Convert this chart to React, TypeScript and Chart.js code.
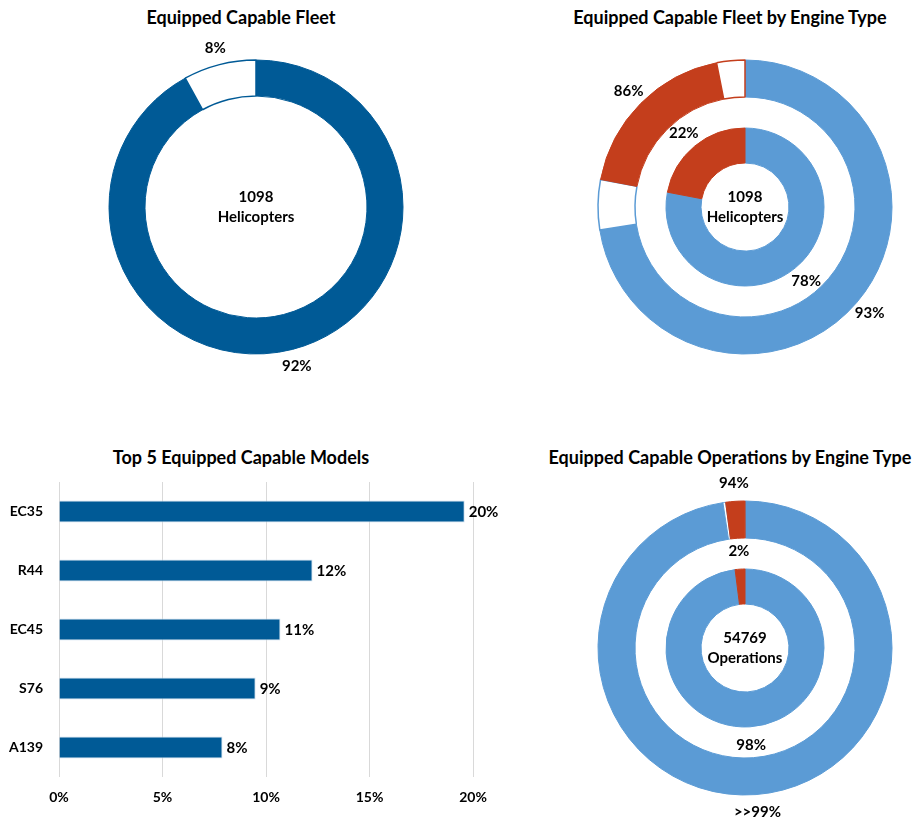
import React, { useEffect, useRef } from "react";
import { Chart, registerables } from "chart.js";

Chart.register(...registerables);

// ---------- colours ----------
const DARK_BLUE = "#005A96";
const LIGHT_BLUE = "#5B9BD5";
const RED = "#C43E1C";
const WHITE = "#FFFFFF";
const TEXT = "#000000";
const FONT = "Lato, 'Open Sans', sans-serif";

// ---------- Panel 1: Equipped Capable Fleet ----------
const fleetTitle = "Equipped Capable Fleet";
const fleetCategories = ["Equipped capable", "Not equipped capable"];
const fleetValues = [92, 8];
const fleetLabels = ["92%", "8%"];
const fleetCenter = ["1098", "Helicopters"];

// ---------- Panel 2: Equipped Capable Fleet by Engine Type ----------
const engineTitle = "Equipped Capable Fleet by Engine Type";
const engineTypes = ["Turbine", "Piston"];
const engineShare = [78, 22];
const engineShareLabels = ["78%", "22%"];
const engineSplitCategories = ["Turbine equipped", "Turbine not equipped", "Piston equipped", "Piston not equipped"];
const engineSplitValues = [72.5, 5.5, 18.9, 3.1];
const engineSplitLabels = ["93%", "", "86%", ""];
const engineCenter = ["1098", "Helicopters"];

// ---------- Panel 3: Top 5 Equipped Capable Models ----------
const modelsTitle = "Top 5 Equipped Capable Models";
const models = ["EC35", "R44", "EC45", "S76", "A139"];
const modelShares = [19.6, 12.25, 10.7, 9.5, 7.9];
const modelLabels = ["20%", "12%", "11%", "9%", "8%"];
const modelAxisMax = 20;
const modelAxisStep = 5;

// ---------- Panel 4: Equipped Capable Operations by Engine Type ----------
const opsTitle = "Equipped Capable Operations by Engine Type";
const opsShare = [98, 2];
const opsShareLabels = ["98%", "2%"];
const opsSplitCategories = ["Turbine equipped", "Turbine not equipped", "Piston equipped", "Piston not equipped"];
const opsSplitValues = [97.6, 0.3, 2.05, 0.05];
const opsSplitLabels = [">>99%", "", "94%", ""];
const opsCenter = ["54769", "Operations"];

const LABEL_FONT = `bold 15px ${FONT}`;

// ---------- plugins ----------
function makeRingLabels(sets: string[][], offset: number) {
  return {
    id: "ringLabels",
    afterDatasetsDraw(chart: any) {
      const ctx = chart.ctx;
      ctx.save();
      ctx.font = LABEL_FONT;
      ctx.fillStyle = TEXT;
      ctx.textAlign = "center";
      ctx.textBaseline = "middle";
      sets.forEach((labels, di) => {
        if (!labels) return;
        const meta = chart.getDatasetMeta(di);
        meta.data.forEach((arc: any, i: number) => {
          const text = labels[i];
          if (!text) return;
          const p = arc.getProps(["x", "y", "startAngle", "endAngle", "outerRadius"], true);
          const a = (p.startAngle + p.endAngle) / 2;
          const r = p.outerRadius + offset;
          ctx.fillText(text, p.x + Math.cos(a) * r, p.y + Math.sin(a) * r);
        });
      });
      ctx.restore();
    },
  };
}

function makeCenterText(lines: string[]) {
  return {
    id: "centerText",
    afterDatasetsDraw(chart: any) {
      const { ctx, chartArea } = chart;
      const cx = (chartArea.left + chartArea.right) / 2;
      const cy = (chartArea.top + chartArea.bottom) / 2;
      ctx.save();
      ctx.font = LABEL_FONT;
      ctx.fillStyle = TEXT;
      ctx.textAlign = "center";
      ctx.textBaseline = "middle";
      const lh = 20;
      lines.forEach((t, i) => {
        ctx.fillText(t, cx, cy - ((lines.length - 1) * lh) / 2 + i * lh);
      });
      ctx.restore();
    },
  };
}

function makeBarLabels(labels: string[]) {
  return {
    id: "barLabels",
    afterDatasetsDraw(chart: any) {
      const ctx = chart.ctx;
      const meta = chart.getDatasetMeta(0);
      ctx.save();
      ctx.font = LABEL_FONT;
      ctx.fillStyle = TEXT;
      ctx.textAlign = "left";
      ctx.textBaseline = "middle";
      meta.data.forEach((bar: any, i: number) => {
        const p = bar.getProps(["x", "y"], true);
        ctx.fillText(labels[i], p.x + 4, p.y + 1);
      });
      ctx.restore();
    },
  };
}

const pct = (v: number) => `${v * 100}%`;

const baseDonutOptions = (cutoutPx: number, radius: number, padTop = 0) => ({
  animation: false as const,
  responsive: false,
  events: [] as any[],
  radius,
  cutout: pct(cutoutPx / radius),
  layout: { padding: { top: padTop, left: 0, right: 0, bottom: 0 } },
  plugins: { legend: { display: false }, tooltip: { enabled: false }, title: { display: false } },
});

// ---------- canvas component ----------
function ChartBox(props: { make: () => any; left: number; top: number; width: number; height: number }) {
  const ref = useRef<HTMLCanvasElement | null>(null);
  useEffect(() => {
    if (!ref.current) return;
    const chart = new Chart(ref.current, props.make());
    return () => chart.destroy();
  }, []);
  return (
    <canvas
      ref={ref}
      width={props.width}
      height={props.height}
      style={{ position: "absolute", left: props.left, top: props.top, width: props.width, height: props.height }}
    />
  );
}

function Title(props: { text: string; cx: number; top: number }) {
  return (
    <div
      style={{
        position: "absolute",
        left: props.cx - 250,
        width: 500,
        top: props.top,
        height: 20,
        lineHeight: "20px",
        textAlign: "center",
        font: `bold 18px ${FONT}`,
        color: TEXT,
        whiteSpace: "nowrap",
      }}
    >
      {props.text}
    </div>
  );
}

// ---------- chart configs ----------
const makeFleet = () => ({
  type: "doughnut",
  data: {
    labels: fleetCategories,
    datasets: [
      {
        label: fleetTitle,
        data: fleetValues,
        backgroundColor: [DARK_BLUE, WHITE],
        borderColor: [DARK_BLUE, DARK_BLUE],
        borderWidth: [1, 1.5],
      },
    ],
  },
  options: baseDonutOptions(111, 147),
  plugins: [makeRingLabels([fleetLabels], 17), makeCenterText(fleetCenter)],
});

const makeEngine = () => ({
  type: "doughnut",
  data: {
    labels: engineSplitCategories,
    datasets: [
      {
        label: "Equipped capable share within engine type",
        data: engineSplitValues,
        backgroundColor: [LIGHT_BLUE, WHITE, RED, WHITE],
        borderColor: [LIGHT_BLUE, LIGHT_BLUE, RED, RED],
        borderWidth: [1, 1.5, 1, 1.5],
        weight: 37,
      },
      {
        label: "gap",
        data: [100],
        backgroundColor: "rgba(0,0,0,0)",
        borderWidth: 0,
        weight: 31,
      },
      {
        label: engineTypes.join(" / "),
        data: engineShare,
        backgroundColor: [LIGHT_BLUE, RED],
        borderColor: [LIGHT_BLUE, RED],
        borderWidth: 1,
        weight: 35,
      },
    ],
  },
  options: baseDonutOptions(44, 147),
  plugins: [makeRingLabels([engineSplitLabels, [], engineShareLabels], 17), makeCenterText(engineCenter)],
});

const makeOps = () => ({
  type: "doughnut",
  data: {
    labels: opsSplitCategories,
    datasets: [
      {
        label: "Equipped capable operations within engine type",
        data: opsSplitValues,
        backgroundColor: [LIGHT_BLUE, WHITE, RED, WHITE],
        borderColor: [LIGHT_BLUE, LIGHT_BLUE, RED, RED],
        borderWidth: [1, 1, 1, 1],
        weight: 37,
      },
      {
        label: "gap",
        data: [100],
        backgroundColor: "rgba(0,0,0,0)",
        borderWidth: 0,
        weight: 31,
      },
      {
        label: engineTypes.join(" / "),
        data: opsShare,
        backgroundColor: [LIGHT_BLUE, RED],
        borderColor: [LIGHT_BLUE, RED],
        borderWidth: 1,
        weight: 35,
      },
    ],
  },
  options: baseDonutOptions(44, 147, 16),
  plugins: [makeRingLabels([opsSplitLabels, [], opsShareLabels], 18), makeCenterText(opsCenter)],
});

const tickFont = { family: FONT, size: 14, weight: "bold" as const };

const makeModels = () => ({
  type: "bar",
  data: {
    labels: models,
    datasets: [
      {
        label: modelsTitle,
        data: modelShares,
        backgroundColor: DARK_BLUE,
        borderColor: "#cfe0ef",
        borderWidth: 1,
        barPercentage: 0.75,
        categoryPercentage: 0.5,
      },
    ],
  },
  options: {
    indexAxis: "y",
    animation: false,
    responsive: false,
    events: [],
    layout: { padding: { top: 12, right: 27, bottom: 0, left: 0 } },
    scales: {
      x: {
        min: 0,
        max: modelAxisMax,
        ticks: {
          stepSize: modelAxisStep,
          callback: (v: any) => `${v}%`,
          font: tickFont,
          color: TEXT,
          padding: 12,
        },
        grid: { color: "#d9d9d9", drawTicks: false, lineWidth: 1 },
        border: { display: false },
        afterFit: (s: any) => {
          s.height = 40;
          s.paddingLeft = 0;
          s.paddingRight = 0;
        },
      },
      y: {
        ticks: { font: tickFont, color: TEXT, padding: 16 },
        grid: { display: false, drawTicks: false },
        border: { display: false },
        afterFit: (s: any) => {
          s.width = 59;
          s.paddingTop = 0;
          s.paddingBottom = 0;
        },
      },
    },
    plugins: { legend: { display: false }, tooltip: { enabled: false } },
  },
  plugins: [makeBarLabels(modelLabels)],
});

export default function App() {
  return (
    <div
      style={{
        position: "absolute",
        left: 0,
        top: 0,
        width: 914,
        height: 821,
        overflow: "hidden",
        background: "#ffffff",
      }}
    >
      <Title text={fleetTitle} cx={241} top={6} />
      <Title text={engineTitle} cx={730} top={6} />
      <Title text={modelsTitle} cx={241} top={446} />
      <Title text={opsTitle} cx={730} top={446} />
      <ChartBox make={makeFleet} left={86} top={27} width={340} height={360} />
      <ChartBox make={makeEngine} left={577} top={27} width={336} height={360} />
      <ChartBox make={makeModels} left={0} top={470} width={500} height={347} />
      <ChartBox make={makeOps} left={577} top={460} width={336} height={360} />
    </div>
  );
}
